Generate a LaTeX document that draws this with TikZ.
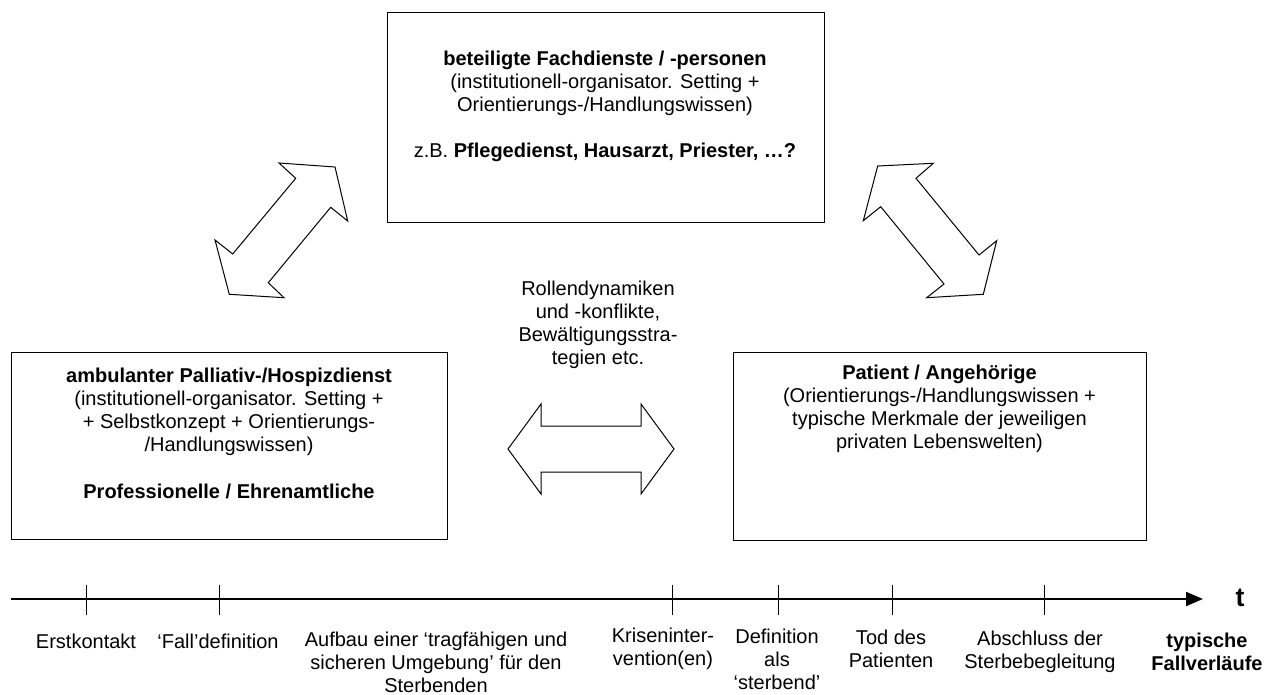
\documentclass[tikz,border=0pt]{standalone}
\usepackage{fontspec}
\setmainfont{Liberation Sans}
\usetikzlibrary{arrows.meta}
\begin{document}
\begin{tikzpicture}[x=0.75pt,y=-0.75pt,
  txt/.style={align=center,inner sep=0pt,font=\fontsize{15}{17.25}\selectfont},
  btxt/.style={txt,font=\fontsize{15}{17.25}\selectfont\bfseries},
  box/.style={draw=black,line width=0.75pt,inner sep=0pt},
  blockarrow/.style={draw=black,line width=0.75pt,line join=miter,fill=white},
  axis/.style={line width=1.5pt,-{Triangle[length=12.75pt,width=10.5pt]}},
  tick/.style={line width=0.75pt}]
\useasboundingbox (0,0) rectangle (1274,695);
\fill[white] (0,0) rectangle (1274,695);

% boxes
\node[box,minimum width=327.75pt,minimum height=157.5pt] (top) at (605.5,118) {};
\node[box,minimum width=327pt,minimum height=140.25pt] (left) at (229,445.5) {};
\node[box,minimum width=309.75pt,minimum height=141pt] (right) at (939.5,446) {};

% top box text
\node[txt] (topT) at (605,83) {\textbf{beteiligte Fachdienste / -personen}\\(institutionell-organisator. Setting +\\Orientierungs-/Handlungswissen)};
\node[txt] (topZ) at (605,152) {z.B. \textbf{Pflegedienst, Hausarzt, Priester, …?}};

% left box text
\node[txt] (leftT) at (229,411.5) {\textbf{ambulanter Palliativ-/Hospizdienst}\\(institutionell-organisator. Setting +\\+ Selbstkonzept + Orientierungs-\\/Handlungswissen)};
\node[btxt] (leftP) at (229,491) {Professionelle / Ehrenamtliche};

% right box text
\node[txt] (rightT) at (939.5,409) {\textbf{Patient / Angehörige}\\(Orientierungs-/Handlungswissen +\\typische Merkmale der jeweiligen\\privaten Lebenswelten)};

% middle text
\node[txt] (mid) at (598,324.5) {Rollendynamiken\\und -konflikte,\\Bewältigungsstra-\\tegien etc.};

% block arrows
\draw[blockarrow] (508,449) -- (541,404) -- (541,426) -- (641,426) -- (641,404) -- (674,449)
  -- (641,494) -- (641,472) -- (541,472) -- (541,494) -- cycle;
\draw[blockarrow] (279,163) -- (335,167) -- (347.7,221) -- (330.7,207.3) -- (268.3,282.7)
  -- (284,297.7) -- (229.3,294.3) -- (215,240) -- (232.7,254) -- (295.7,178.3) -- cycle;
\draw[blockarrow] (877.7,166) -- (933.3,163.3) -- (916,178.3) -- (979,255) -- (996.7,240.7)
  -- (983.3,294.3) -- (926.7,297.7) -- (944,284) -- (880.7,206.7) -- (863.3,220.7) -- cycle;

% timeline
\coordinate (t0) at (11,599);
\coordinate (t1) at (1203,599);
\draw[axis] (t0) -- (t1);
\node[font=\fontsize{20}{24}\selectfont\bfseries,inner sep=0pt] (tlab) at (1240,598) {t};
\foreach \x/\n in {86/a,219/b,672/c,778/d,892/e,1044/f}{
  \coordinate (k\n) at (\x,599);
  \draw[tick] (\x,585) -- (\x,615);
}

% timeline labels
\node[txt] (l1) at (86,641) {Erstkontakt};
\node[txt] (l2) at (218,641) {‘Fall’definition};
\node[txt] (l3) at (436,662) {Aufbau einer ‘tragfähigen und\\sicheren Umgebung’ für den\\Sterbenden};
\node[txt] (l4) at (663,648.5) {Kriseninter-\\vention(en)};
\node[txt] (l5) at (777,659) {Definition\\als\\‘sterbend’};
\node[txt] (l6) at (891,648.5) {Tod des\\Patienten};
\node[txt] (l7) at (1040,651.5) {Abschluss der\\Sterbebegleitung};
\node[btxt] (l8) at (1207,651.5) {typische\\Fallverläufe};
\end{tikzpicture}
\end{document}
